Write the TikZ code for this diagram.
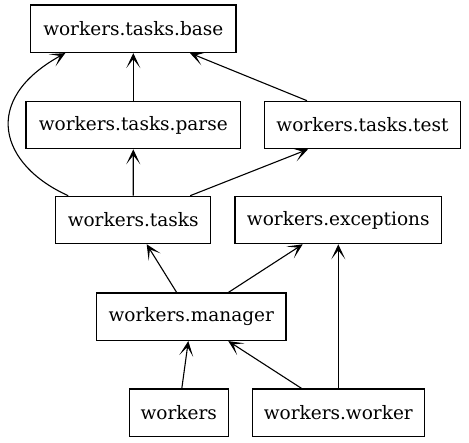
\documentclass[tikz,border=0pt]{standalone}
\usepackage{fontspec}
\setmainfont{DejaVu Serif}
\usetikzlibrary{arrows.meta}
\begin{document}
\begin{tikzpicture}[x=1pt,y=-1pt,
  box/.style={draw, line width=1.1pt, inner sep=0pt, minimum height=47.5pt,
    font=\fontsize{18.5}{22}\selectfont},
  dep/.style={line width=1.1pt, -{Stealth[length=15pt,width=14pt,inset=9pt]}}]
\useasboundingbox (0,0) rectangle (469,443);
\node[box, minimum width=205.3pt] (base) at (133.3,28.8) {workers.tasks.base};
\node[box, minimum width=214.7pt] (parse) at (133.3,125) {workers.tasks.parse};
\node[box, minimum width=196.4pt] (test) at (362.5,125) {workers.tasks.test};
\node[box, minimum width=155pt] (tasks) at (133.2,220) {workers.tasks};
\node[box, minimum width=206.7pt] (exc) at (338.3,220) {workers.exceptions};
\node[box, minimum width=189.3pt] (manager) at (191.3,316.8) {workers.manager};
\node[box, minimum width=99pt] (workers) at (178.8,412.8) {workers};
\node[box, minimum width=172pt] (worker) at (338.3,412.8) {workers.worker};
\draw[dep] (parse.north) -- (base.south);
\draw[dep] ([xshift=-55.5pt]test.north) -- ([xshift=56.7pt]base.south);
\draw[dep] ([xshift=-65pt]tasks.north) .. controls (0,165) and (-20,100) .. ([xshift=-68pt]base.south);
\draw[dep] (tasks.north) -- (parse.south);
\draw[dep] ([xshift=57pt]tasks.north) -- ([xshift=-54.5pt]test.south);
\draw[dep] ([xshift=-14.6pt]manager.north) -- ([xshift=13.5pt]tasks.south);
\draw[dep] ([xshift=37pt]manager.north) -- ([xshift=-35.6pt]exc.south);
\draw[dep] ([xshift=3pt]workers.north) -- ([xshift=-3pt]manager.south);
\draw[dep] ([xshift=-36.6pt]worker.north) -- ([xshift=37pt]manager.south);
\draw[dep] (worker.north) -- (exc.south);
\end{tikzpicture}
\end{document}
